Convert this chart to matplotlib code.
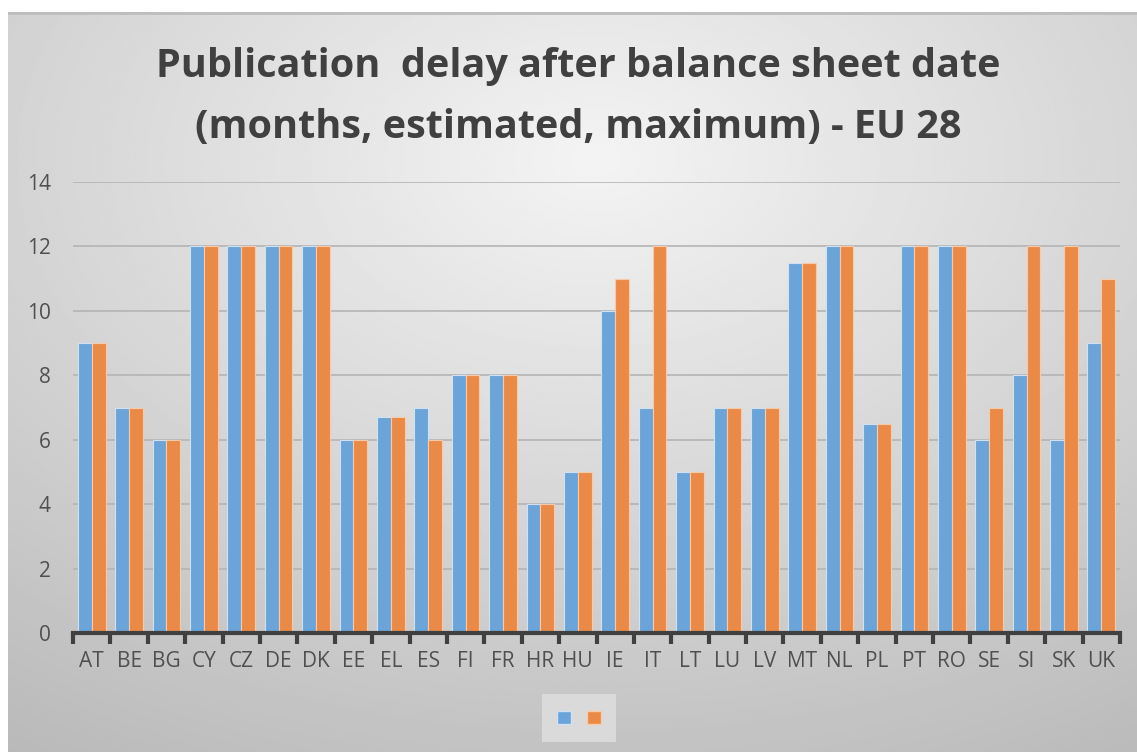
import numpy as np
import matplotlib.pyplot as plt
from matplotlib.patches import Patch

countries = ["AT", "BE", "BG", "CY", "CZ", "DE", "DK", "EE", "EL", "ES",
             "FI", "FR", "HR", "HU", "IE", "IT", "LT", "LU", "LV", "MT",
             "NL", "PL", "PT", "RO", "SE", "SI", "SK", "UK"]
series_a = [9, 7, 6, 12, 12, 12, 12, 6, 6.7, 7,
            8, 8, 4, 5, 10, 7, 5, 7, 7, 11.5,
            12, 6.5, 12, 12, 6, 8, 6, 9]
series_b = [9, 7, 6, 12, 12, 12, 12, 6, 6.7, 6,
            8, 8, 4, 5, 11, 12, 5, 7, 7, 11.5,
            12, 6.5, 12, 12, 7, 12, 12, 11]
yticks = [0, 2, 4, 6, 8, 10, 12, 14]
title = "Publication  delay after balance sheet date\n(months, estimated, maximum) - EU 28"

W, H = 1137, 752
fig = plt.figure(figsize=(W / 100, H / 100), dpi=100)
fig.patch.set_facecolor("white")

# gradient background of the chart area
bg = fig.add_axes([8 / W, 0, 1 - 8 / W, 1 - 12 / H])
bg.set_axis_off()
yy, xx = np.mgrid[0:1:300j, 0:1:450j]
r = np.sqrt(((xx - 0.52) / 1.0) ** 2 + ((yy - 0.2) / 1.0) ** 2)
shade = 0.955 - 0.24 * np.clip(r, 0, 1)
bg.imshow(shade, cmap="gray", vmin=0, vmax=1, aspect="auto",
          extent=[0, 1, 1, 0], interpolation="bilinear")
bg.plot([0, 1], [0.998, 0.998], color="#bdbdbd", lw=2, transform=bg.transAxes)
bg.set_xlim(0, 1)
bg.set_ylim(1, 0)

ax = fig.add_axes([73 / W, 1 - 633 / H, (1120 - 73) / W, (633 - 182) / H])
ax.set_facecolor("none")

x = np.arange(len(countries))
w = 0.37
ax.bar(x - w / 2, series_a, width=w, color="#6aa4d8", edgecolor="#cfe1f3",
       linewidth=0.8, zorder=3)
ax.bar(x + w / 2, series_b, width=w, color="#eb8a47", edgecolor="#f7cba9",
       linewidth=0.8, zorder=3)

ax.set_xlim(-0.5, len(countries) - 0.5)
ax.set_ylim(0, 14)
ax.set_yticks(yticks)
ax.yaxis.grid(True, color="#b4b4b4", linewidth=1.2, zorder=0)
ax.set_axisbelow(True)
for s in ["top", "right", "left"]:
    ax.spines[s].set_visible(False)
ax.spines["bottom"].set_color("#404040")
ax.spines["bottom"].set_linewidth(3)
ax.spines["bottom"].set_zorder(4)

ax.set_xticks(x)
ax.set_xticklabels(countries)
ax.set_xticks(np.arange(-0.5, len(countries)), minor=True)
ax.tick_params(axis="x", which="major", length=0, pad=13,
               labelsize=15, labelcolor="#505050")
ax.tick_params(axis="x", which="minor", length=8, width=3, color="#404040",
               direction="out")
ax.tick_params(axis="y", length=0, pad=16, labelsize=15, labelcolor="#505050")
for lab in ax.get_xticklabels() + ax.get_yticklabels():
    lab.set_family("Open Sans")

fig.text(578 / W, 1 - 97 / H, title, ha="center", va="center",
         fontsize=28.5, fontweight="bold", color="#404040",
         family="Open Sans", linespacing=1.7)

handles = [Patch(facecolor="#6aa4d8", edgecolor="#cfe1f3"),
           Patch(facecolor="#eb8a47", edgecolor="#f7cba9")]
leg = fig.legend(handles, ["", ""], loc="center", ncol=2,
                 bbox_to_anchor=(579 / W, 1 - 718 / H),
                 handlelength=0.8, handleheight=0.8, handletextpad=0,
                 columnspacing=1.0, borderpad=0.9, borderaxespad=0,
                 frameon=True, fancybox=False, fontsize=12)
leg.get_frame().set_facecolor("#e0e0e0")
leg.get_frame().set_edgecolor("none")

fig.savefig("out.png", dpi=100)
